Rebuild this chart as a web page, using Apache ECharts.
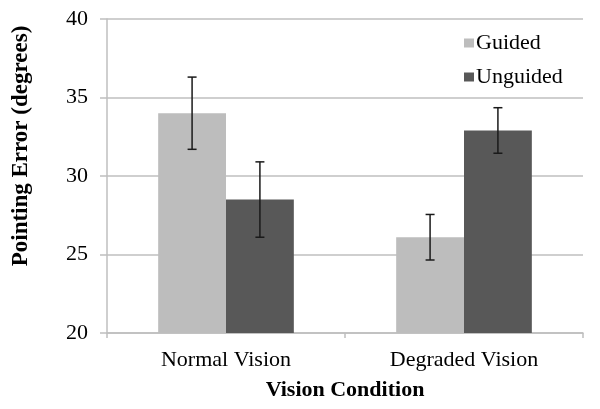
<!DOCTYPE html>
<html>
<head>
<meta charset="utf-8">
<script src="https://cdn.jsdelivr.net/npm/echarts@6/dist/echarts.min.js"></script>
<style>html,body{margin:0;padding:0;background:#fff}#c{width:600px;height:409px}</style>
</head>
<body>
<div id="c"></div>
<script>
var categories = ['Normal Vision', 'Degraded Vision'];
var guided = [34.0, 26.1];
var unguided = [28.5, 32.9];
var guidedErr = [2.3, 1.45];
var unguidedErr = [2.4, 1.45];
var yTicks = [20, 25, 30, 35, 40];

var FONT = '"Liberation Serif", "Times New Roman", serif';
var CAT_GAP = 0.43;

function errSeries(vals, errs, side) {
  return {
    type: 'custom',
    silent: true,
    z: 10,
    data: vals.map(function (v, i) { return [i, v, errs[i]]; }),
    renderItem: function (params, api) {
      var i = api.value(0), v = api.value(1), e = api.value(2);
      var band = api.size([1, 0])[0];
      var bw = band * (1 - CAT_GAP) / 2;
      var c = api.coord([i, v]);
      var x = c[0] + side * bw / 2;
      var top = api.coord([i, v + e])[1];
      var bot = api.coord([i, v - e])[1];
      var cap = 4.5;
      var st = { stroke: '#1a1a1a', lineWidth: 1.5 };
      return {
        type: 'group',
        children: [
          { type: 'line', shape: { x1: x, y1: top, x2: x, y2: bot }, style: st },
          { type: 'line', shape: { x1: x - cap, y1: top, x2: x + cap, y2: top }, style: st },
          { type: 'line', shape: { x1: x - cap, y1: bot, x2: x + cap, y2: bot }, style: st }
        ]
      };
    }
  };
}

var chart = echarts.init(document.getElementById('c'), null, { renderer: 'canvas' });
chart.setOption({
  animation: false,
  backgroundColor: '#fff',
  textStyle: { fontFamily: FONT },
  grid: { left: 107, right: 17, top: 19, bottom: 76, containLabel: false },
  legend: {
    data: ['Guided', 'Unguided'],
    orient: 'vertical',
    left: 459,
    top: 27,
    itemWidth: 10,
    itemHeight: 9,
    itemGap: 12,
    textStyle: { fontFamily: FONT, fontSize: 22, color: '#000', padding: [0, 0, 0, -3] },
    icon: 'rect'
  },
  xAxis: {
    type: 'category',
    data: categories,
    name: 'Vision Condition',
    nameLocation: 'middle',
    nameGap: 46,
    nameTextStyle: { fontFamily: FONT, fontSize: 22, fontWeight: 'bold', color: '#000' },
    axisLine: { lineStyle: { color: '#bfbfbf', width: 1.5 } },
    axisTick: { show: true, length: 5, inside: false, lineStyle: { color: '#bfbfbf', width: 1.5 } },
    axisLabel: { fontFamily: FONT, fontSize: 22, color: '#000', margin: 16 }
  },
  yAxis: {
    type: 'value',
    min: 20,
    max: 40,
    interval: 5,
    name: 'Pointing Error (degrees)',
    nameLocation: 'middle',
    nameGap: 74,
    nameRotate: 90,
    nameTextStyle: { fontFamily: FONT, fontSize: 23, fontWeight: 'bold', color: '#000', padding: [0, 0, 0, 60] },
    axisLine: { show: true, lineStyle: { color: '#bfbfbf', width: 1.5 } },
    axisTick: { show: true, length: 7, lineStyle: { color: '#bfbfbf', width: 1.5 } },
    axisLabel: {
      fontFamily: FONT, fontSize: 22, color: '#000', margin: 19,
      formatter: function (v) { return yTicks.indexOf(v) >= 0 ? String(v) : ''; }
    },
    splitLine: { show: true, lineStyle: { color: '#bfbfbf', width: 1.5 } }
  },
  series: [
    {
      name: 'Guided', type: 'bar', data: guided,
      barGap: '0%', barCategoryGap: (CAT_GAP * 100) + '%',
      itemStyle: { color: '#bdbdbd' }
    },
    {
      name: 'Unguided', type: 'bar', data: unguided,
      barGap: '0%', barCategoryGap: (CAT_GAP * 100) + '%',
      itemStyle: { color: '#585858' }
    },
    errSeries(guided, guidedErr, -1),
    errSeries(unguided, unguidedErr, 1)
  ]
});
</script>
</body>
</html>
